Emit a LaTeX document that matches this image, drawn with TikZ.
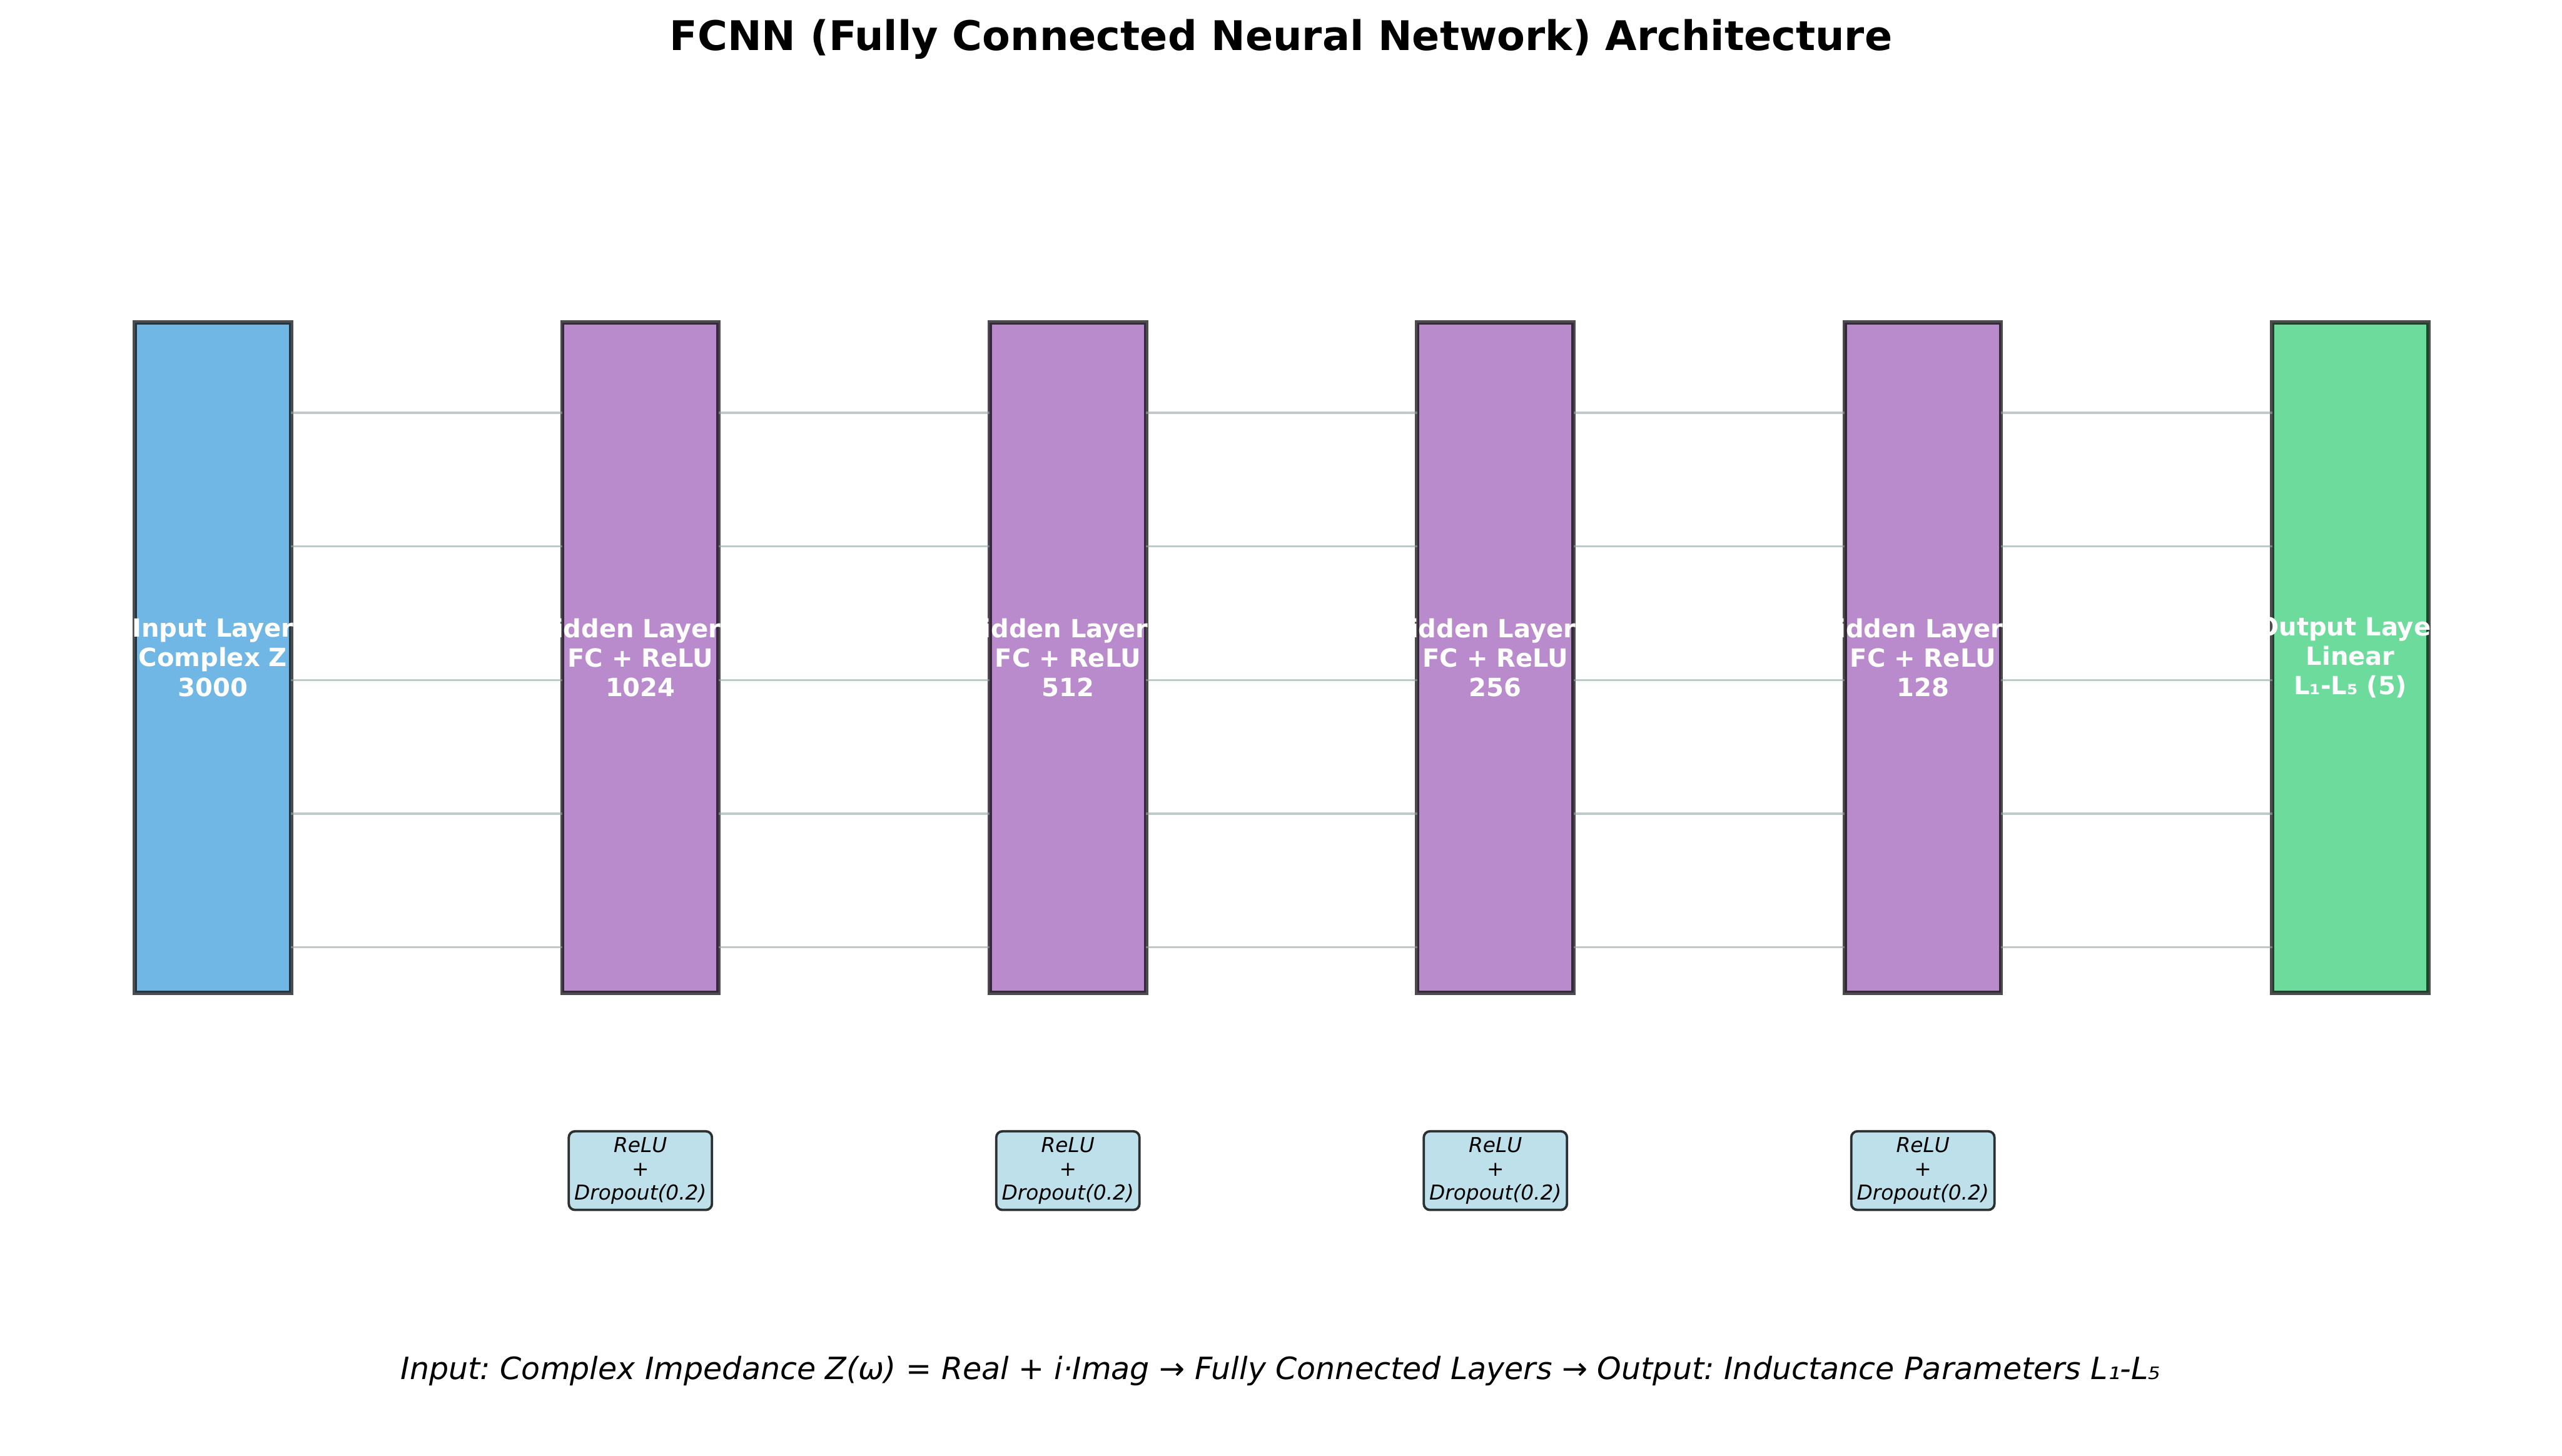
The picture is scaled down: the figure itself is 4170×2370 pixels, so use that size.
\documentclass[tikz,border=0pt]{standalone}
\usepackage{fontspec}
\setmainfont{DejaVu Sans}
\usepackage{tikz}
\usetikzlibrary{positioning,calc}
\definecolor{inblue}{HTML}{71B7E6}
\definecolor{hidpurple}{HTML}{B98BCC}
\definecolor{outgreen}{HTML}{6DDB9C}
\definecolor{dropblue}{HTML}{BDE0EB}
\definecolor{conngray}{HTML}{95A5A6}
\frenchspacing

\begin{document}
\begin{tikzpicture}[x=0.01cm,y=-0.01cm,
    layerbox/.style={rectangle,draw=black,draw opacity=0.7,line width=1.99pt,
        minimum width=2.54cm,minimum height=10.9cm,inner sep=0pt,outer sep=0pt},
    layertext/.style={text=white,align=center,font=\bfseries\fontsize{11.6}{13.66}\selectfont},
    dropbox/.style={rectangle,rounded corners=0.1cm,draw=black,draw opacity=0.8,line width=1.1pt,
        fill=dropblue,minimum width=2.33cm,minimum height=1.28cm,inner sep=0pt,outer sep=0pt,
        align=center,font=\itshape\fontsize{9.5}{10.95}\selectfont},
    conn/.style={draw=conngray,draw opacity=0.6,line width=1pt},
    node distance=4.414cm]
 \useasboundingbox (0,0) rectangle (4170,2370);

 \node[font=\bfseries\fontsize{18.9}{22}\selectfont,anchor=base] (title) at (2085,82)
    {FCNN (Fully Connected Neural Network) Architecture};

 % layers
 \node[layerbox,fill=inblue] (in) at (346.5,1070.5) {};
 \node[layerbox,fill=hidpurple,right=of in] (h1) {};
 \node[layerbox,fill=hidpurple,right=of h1] (h2) {};
 \node[layerbox,fill=hidpurple,right=of h2] (h3) {};
 \node[layerbox,fill=hidpurple,right=of h3] (h4) {};
 \node[layerbox,fill=outgreen,right=of h4] (out) {};

 % connections
 \foreach \a/\b in {in/h1,h1/h2,h2/h3,h3/h4,h4/out}
   \foreach \dy in {-398.5,-181,36.5,254,471.5}
     \draw[conn] ($(\a.east)+(0,\dy)$) -- ($(\b.west)+(0,\dy)$);

 \node[layertext] at (in) {Input Layer\\Complex Z\\3000};
 \node[layertext] at (h1) {Hidden Layer\hphantom{\ 1}\\FC + ReLU\\1024};
 \node[layertext] at (h2) {Hidden Layer\hphantom{\ 2}\\FC + ReLU\\512};
 \node[layertext] at (h3) {Hidden Layer\hphantom{\ 3}\\FC + ReLU\\256};
 \node[layertext] at (h4) {Hidden Layer\hphantom{\ 4}\\FC + ReLU\\128};
 \node[layertext] at (out) {Output Layer\\Linear\\L₁-L₅ (5)};

 \foreach \h/\d in {h1/d1,h2/d2,h3/d3,h4/d4}
   \node[dropbox,below=2.255cm of \h] (\d) {ReLU\\+\\Dropout(0.2)};

 \node[font=\itshape\fontsize{14.2}{17}\selectfont,anchor=base] (caption) at (2084.5,2245)
    {Input: Complex Impedance Z(ω) = Real + i·Imag → Fully Connected Layers → Output: Inductance Parameters L₁-L₅};
\end{tikzpicture}
\end{document}
